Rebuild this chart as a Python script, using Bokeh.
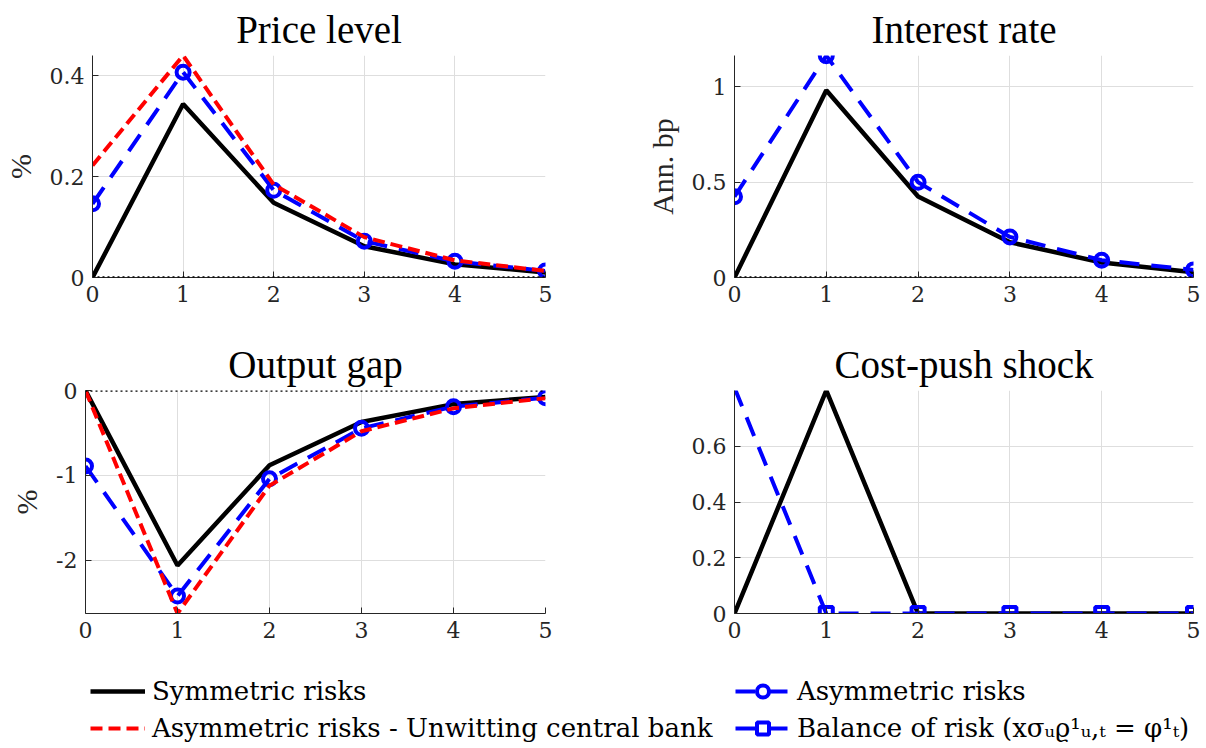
from bokeh.plotting import figure
from bokeh.models import FixedTicker, Span, Legend, LegendItem, Range1d
from bokeh.layouts import column, row
from bokeh.embed import file_html
from bokeh.resources import INLINE

# ---------------- data ----------------
horizon = [0, 1, 2, 3, 4, 5]

price_sym = [0.0, 0.344, 0.148, 0.062, 0.026, 0.010]
price_asym = [0.146, 0.407, 0.173, 0.072, 0.032, 0.013]
price_unw = [0.222, 0.440, 0.184, 0.080, 0.034, 0.013]

rate_sym = [0.0, 0.983, 0.425, 0.185, 0.079, 0.028]
rate_asym = [0.424, 1.164, 0.500, 0.213, 0.091, 0.040]

gap_sym = [0.0, -2.06, -0.88, -0.37, -0.16, -0.075]
gap_asym = [-0.89, -2.42, -1.04, -0.445, -0.19, -0.085]
gap_unw = [0.0, -2.625, -1.12, -0.48, -0.21, -0.09]

shock_sym = [0.0, 0.80, 0.0, 0.0, 0.0, 0.0]
shock_bal = [0.81, 0.0, 0.0, 0.0, 0.0, 0.0]

x_ticks = [0, 1, 2, 3, 4, 5]
x_labels = ["0", "1", "2", "3", "4", "5"]
price_ticks = [0, 0.2, 0.4]
price_labels = ["0", "0.2", "0.4"]
rate_ticks = [0, 0.5, 1]
rate_labels = ["0", "0.5", "1"]
gap_ticks = [-2, -1, 0]
gap_labels = ["-2", "-1", "0"]
shock_ticks = [0, 0.2, 0.4, 0.6]
shock_labels = ["0", "0.2", "0.4", "0.6"]

titles = ["Price level", "Interest rate", "Output gap", "Cost-push shock"]
series_names = ["Symmetric risks", "Asymmetric risks - Unwitting central bank",
                "Asymmetric risks", "Balance of risk (xσᵤϱ¹ᵤ,ₜ = φ¹ₜ)"]

# ---------------- style ----------------
TITLE_FONT = "Liberation Serif"
TICK_FONT = "DejaVu Serif"
LEG_FONT = "DejaVu Serif"
AX = "#262626"
BLACK_W = 4.5
BLUE = "#0000ff"
RED = "#ff0000"
BLUE_DASH = "20 12"
RED_DASH = "12 6"
MS = 13
MLW = 4


def panel(title, width, height, ylim, yticks, ylabels, ylabel, bl, br, bt, bb, zero_line):
    p = figure(width=width, height=height, x_range=Range1d(0, 5), y_range=Range1d(*ylim),
               output_backend="svg", toolbar_location=None,
               min_border_left=bl, min_border_right=br, min_border_top=bt, min_border_bottom=bb)
    p.outline_line_color = None
    p.title.text = title
    p.title.align = "center"
    p.title.text_font = TITLE_FONT
    p.title.text_font_size = "39px"
    p.title.text_font_style = "normal"
    p.title.text_color = "black"
    p.title.standoff = 10

    xt = FixedTicker(ticks=x_ticks)
    yt = FixedTicker(ticks=yticks)
    xa = p.xaxis[0]
    ya = p.yaxis[0]
    xa.ticker = xt
    ya.ticker = yt
    p.xgrid[0].ticker = xt
    p.ygrid[0].ticker = yt
    xa.major_label_overrides = dict(zip(x_ticks, x_labels))
    ya.major_label_overrides = dict(zip(yticks, ylabels))
    for ax in (xa, ya):
        ax.axis_line_color = AX
        ax.axis_line_width = 1
        ax.major_tick_line_color = AX
        ax.major_tick_in = 6
        ax.major_tick_out = 0
        ax.minor_tick_line_color = None
        ax.major_label_text_font = TICK_FONT
        ax.major_label_text_font_size = "22px"
        ax.major_label_text_font_style = "normal"
        ax.major_label_text_color = AX
        ax.major_label_standoff = 8
    if ylabel:
        ya.axis_label = ylabel
        ya.axis_label_text_font = TITLE_FONT
        ya.axis_label_text_font_size = "30px"
        ya.axis_label_text_font_style = "normal"
        ya.axis_label_text_color = AX
        ya.axis_label_standoff = 10
    for g in (p.xgrid[0], p.ygrid[0]):
        g.grid_line_color = "#dedede"
        g.grid_line_width = 1
    if zero_line:
        p.add_layout(Span(location=0, dimension="width", line_color="black",
                          line_dash="2 3", line_width=2.6))
    return p


def in_range(xs, ys, lo, hi):
    pts = [(x, y) for x, y in zip(xs, ys) if lo <= y <= hi]
    return [a for a, _ in pts], [b for _, b in pts]


# Price level
p1 = panel(titles[0], 600, 320, (0, 0.44), price_ticks, price_labels, "%", 85, 55, 55, 43, True)
p1.line(horizon, price_sym, color="black", line_width=BLACK_W)
p1.line(horizon, price_asym, color=BLUE, line_width=4, line_dash=BLUE_DASH)
p1.scatter(horizon, price_asym, marker="circle", size=MS, line_color=BLUE, line_width=MLW, fill_alpha=0)
p1.line(horizon, price_unw, color=RED, line_width=4, line_dash=RED_DASH)

# Interest rate
p2 = panel(titles[1], 606, 320, (0, 1.165), rate_ticks, rate_labels, "Ann. bp", 134, 13, 55, 43, True)
p2.line(horizon, rate_sym, color="black", line_width=BLACK_W)
p2.line(horizon, rate_asym, color=BLUE, line_width=4, line_dash=BLUE_DASH)
p2.scatter(horizon, rate_asym, marker="circle", size=MS, line_color=BLUE, line_width=MLW, fill_alpha=0)

# Output gap
p3 = panel(titles[2], 600, 330, (-2.625, 0), gap_ticks, gap_labels, "%", 85, 55, 70, 37, True)
p3.line(horizon, gap_sym, color="black", line_width=BLACK_W)
p3.line(horizon, gap_asym, color=BLUE, line_width=4, line_dash=BLUE_DASH)
p3.scatter(horizon, gap_asym, marker="circle", size=MS, line_color=BLUE, line_width=MLW, fill_alpha=0)
p3.line(horizon, gap_unw, color=RED, line_width=4, line_dash=RED_DASH)

# Cost-push shock
p4 = panel(titles[3], 606, 330, (0, 0.8), shock_ticks, shock_labels, None, 134, 13, 70, 37, False)
p4.line(horizon, shock_sym, color="black", line_width=BLACK_W)
p4.line(horizon, shock_bal, color=BLUE, line_width=4, line_dash=BLUE_DASH)
sx, sy = in_range(horizon, shock_bal, 0, 0.8)
p4.scatter(sx, sy, marker="square", size=MS, line_color=BLUE, line_width=MLW, fill_alpha=0)

# Legend strip (renderers sit outside the visible range; only their legend glyphs show)
lg = figure(width=1206, height=98, x_range=Range1d(100, 101), y_range=Range1d(100, 101),
            output_backend="svg", toolbar_location=None, x_axis_type=None, y_axis_type=None,
            min_border=0)
lg.outline_line_color = None
lg.grid.visible = False
r_sym = lg.line(horizon, price_sym, color="black", line_width=BLACK_W)
r_unw = lg.line(horizon, price_unw, color=RED, line_width=4, line_dash=RED_DASH)
r_asl = lg.line(horizon, price_asym, color=BLUE, line_width=4, line_dash=BLUE_DASH)
r_asm = lg.scatter(horizon, price_asym, marker="circle", size=MS, line_color=BLUE, line_width=MLW, fill_alpha=0)
r_bal = lg.line(horizon, shock_bal, color=BLUE, line_width=4, line_dash=BLUE_DASH)
r_bam = lg.scatter(horizon, shock_bal, marker="square", size=MS, line_color=BLUE, line_width=MLW, fill_alpha=0)


def mk_legend(item, loc):
    L = Legend(items=[item], location=loc)
    L.label_text_font = LEG_FONT
    L.label_text_font_size = "26px"
    L.label_text_font_style = "normal"
    L.label_text_color = "black"
    L.glyph_width = 55
    L.glyph_height = 30
    L.label_height = 30
    L.label_standoff = 7
    L.spacing = 0
    L.padding = 0
    L.margin = 0
    L.border_line_color = None
    L.background_fill_alpha = 0
    return L


lg.add_layout(mk_legend(LegendItem(label=series_names[0], renderers=[r_sym]), (90, 42)))
lg.add_layout(mk_legend(LegendItem(label=series_names[1], renderers=[r_unw]), (90, 5)))
lg.add_layout(mk_legend(LegendItem(label=series_names[2], renderers=[r_asl, r_asm]), (735, 42)))
lg.add_layout(mk_legend(LegendItem(label=series_names[3], renderers=[r_bal, r_bam]), (735, 5)))

layout = column(row(p1, p2), row(p3, p4), lg)
open("out.html", "w").write(file_html(layout, INLINE))
